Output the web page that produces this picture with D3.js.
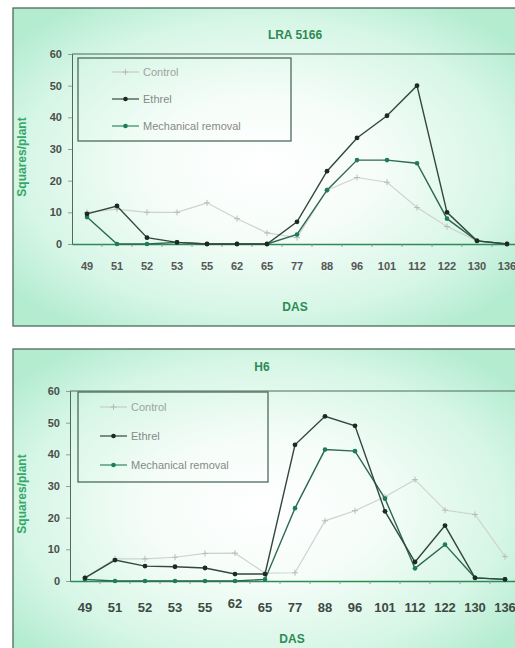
<!DOCTYPE html>
<html>
<head>
<meta charset="utf-8">
<script src="https://cdn.jsdelivr.net/npm/d3@7"></script>
<style>
  body { margin: 0; background: #ffffff; }
  svg { display: block; font-family: "Liberation Sans", Arial, sans-serif; }
</style>
</head>
<body>
<div id="chart"></div>
<script>
var das = ["49", "51", "52", "53", "55", "62", "65", "77", "88", "96", "101", "112", "122", "130", "136"];
var yTicks = [0, 10, 20, 30, 40, 50, 60];
var seriesNames = ["Control", "Ethrel", "Mechanical removal"];

var lraControl = [10, 11, 10, 10, 13, 8, 3.5, 2, 17, 21, 19.5, 11.5, 5.5, 1, 0];
var lraEthrel  = [9.5, 12, 2, 0.5, 0, 0, 0, 7, 23, 33.5, 40.5, 50, 10, 1, 0];
var lraMech    = [8.5, 0, 0, 0.5, 0, 0, 0, 3, 17, 26.5, 26.5, 25.5, 8, 1, 0];

var h6Control = [1, 7, 7, 7.5, 8.7, 8.8, 2.5, 2.6, 19, 22.2, 26.6, 32, 22.4, 21, 7.7];
var h6Ethrel  = [1, 6.6, 4.7, 4.5, 4.1, 2.2, 2.2, 43, 52, 49, 22, 6, 17.5, 1, 0.5];
var h6Mech    = [0.5, 0, 0, 0, 0, 0, 0.5, 23, 41.5, 41, 26, 4, 11.5, 1, 0.5];

var width = 515, height = 648;
var green = '#2f8a55';

var svg = d3.select('#chart').append('svg')
    .attr('width', width)
    .attr('height', height);

var defs = svg.append('defs');
var grad = defs.append('radialGradient')
    .attr('id', 'bg')
    .attr('cx', '48%').attr('cy', '50%').attr('r', '62%');
grad.append('stop').attr('offset', '0%').attr('stop-color', '#ffffff');
grad.append('stop').attr('offset', '35%').attr('stop-color', '#f6fdf9');
grad.append('stop').attr('offset', '75%').attr('stop-color', '#d6f6e6');
grad.append('stop').attr('offset', '100%').attr('stop-color', '#b4ecd0');

function drawPanel(opt) {
    var g = svg.append('g').attr('transform', 'translate(0,' + opt.top + ')');

    g.append('rect')
        .attr('x', 13).attr('y', 0)
        .attr('width', 520).attr('height', opt.boxH)
        .attr('fill', 'url(#bg)')
        .attr('stroke', '#4d6b5a')
        .attr('stroke-width', 1.3);

    var x = d3.scaleBand().domain(das).range([opt.x0, opt.x0 + 30 * das.length]);
    var y = d3.scaleLinear().domain([0, 60]).range([opt.y0, opt.y60]);

    // plot top line
    g.append('line')
        .attr('x1', opt.x0).attr('x2', 515)
        .attr('y1', y(60)).attr('y2', y(60))
        .attr('stroke', '#4d6b5a').attr('stroke-width', 1);

    // y axis
    var yAxis = g.append('g')
        .attr('transform', 'translate(' + opt.x0 + ',0)')
        .call(d3.axisLeft(y).tickValues(yTicks).tickSize(4).tickPadding(6));
    yAxis.select('.domain').attr('stroke', '#4d6b5a');
    yAxis.selectAll('line').attr('stroke', '#999');
    yAxis.selectAll('text')
        .attr('fill', '#4a4f4c')
        .style('font-size', '11px')
        .style('font-weight', 'bold');

    // x axis
    var xAxis = g.append('g')
        .attr('transform', 'translate(0,' + y(0) + ')')
        .call(d3.axisBottom(x).tickSize(0).tickPadding(opt.xPad));
    xAxis.select('.domain').attr('stroke', green).attr('stroke-width', 1.5);
    xAxis.selectAll('text')
        .attr('fill', opt.xColor)
        .style('font-size', opt.xFont)
        .style('font-weight', 'bold');
    xAxis.selectAll('.tick').filter(function(d) { return d === '62' && opt.lift62; })
        .select('text').attr('dy', '0.4em');

    // small ticks at band boundaries
    g.selectAll('.minor')
        .data(das.slice(1))
        .enter().append('line')
        .attr('x1', function(d) { return x(d); })
        .attr('x2', function(d) { return x(d); })
        .attr('y1', y(0)).attr('y2', y(0) + 3)
        .attr('stroke', '#888').attr('stroke-width', 0.8);

    var cx = function(d, i) { return x(das[i]) + x.bandwidth() / 2; };
    var line = d3.line().x(cx).y(function(d) { return y(d); });

    // control
    g.append('path').datum(opt.control)
        .attr('d', line).attr('fill', 'none')
        .attr('stroke', '#cfd3d0').attr('stroke-width', 1.2);
    g.selectAll('.ctl').data(opt.control).enter().append('path')
        .attr('transform', function(d, i) { return 'translate(' + cx(d, i) + ',' + y(d) + ')'; })
        .attr('d', 'M-3,0H3M0,-3V3')
        .attr('stroke', '#b8bcb9').attr('stroke-width', 1);

    // mechanical removal
    g.append('path').datum(opt.mech)
        .attr('d', line).attr('fill', 'none')
        .attr('stroke', '#2c6a52').attr('stroke-width', 1.4);
    g.selectAll('.mech').data(opt.mech).enter().append('circle')
        .attr('cx', cx).attr('cy', function(d) { return y(d); })
        .attr('r', 2.3).attr('fill', '#1e7d58');

    // ethrel
    g.append('path').datum(opt.ethrel)
        .attr('d', line).attr('fill', 'none')
        .attr('stroke', '#33473d').attr('stroke-width', 1.4);
    g.selectAll('.eth').data(opt.ethrel).enter().append('circle')
        .attr('cx', cx).attr('cy', function(d) { return y(d); })
        .attr('r', 2.4).attr('fill', '#1c2a22');

    // legend
    var lg = g.append('g');
    lg.append('rect')
        .attr('x', opt.leg.x).attr('y', opt.leg.y)
        .attr('width', opt.leg.w).attr('height', opt.leg.h)
        .attr('fill', 'none').attr('stroke', '#4d6b5a').attr('stroke-width', 1.3);
    var styles = [
        { stroke: '#c8ccc9', mark: 'plus', fill: '#b8bcb9' },
        { stroke: '#33473d', mark: 'dot', fill: '#1c2a22' },
        { stroke: '#2c8a62', mark: 'dot', fill: '#1e7d58' }
    ];
    seriesNames.forEach(function(name, i) {
        var ly = opt.leg.y + opt.leg.first + i * opt.leg.step;
        var lx = opt.leg.x + opt.leg.lineX;
        lg.append('line')
            .attr('x1', lx).attr('x2', lx + 27)
            .attr('y1', ly).attr('y2', ly)
            .attr('stroke', styles[i].stroke).attr('stroke-width', 1.2);
        if (styles[i].mark === 'plus') {
            lg.append('path')
                .attr('transform', 'translate(' + (lx + 13.5) + ',' + ly + ')')
                .attr('d', 'M-3,0H3M0,-3V3')
                .attr('stroke', styles[i].fill);
        } else {
            lg.append('circle').attr('cx', lx + 13.5).attr('cy', ly)
                .attr('r', 2.3).attr('fill', styles[i].fill);
        }
        lg.append('text')
            .attr('x', lx + 31).attr('y', ly + 4)
            .attr('fill', i === 0 ? '#9ea29f' : '#858a87')
            .style('font-size', '11px')
            .style('font-stretch', 'condensed')
            .text(name);
    });

    // titles
    g.append('text')
        .attr('x', opt.titleX).attr('y', opt.titleY)
        .attr('text-anchor', 'middle')
        .attr('fill', green)
        .style('font-size', '12px').style('font-weight', 'bold')
        .text(opt.title);

    g.append('text')
        .attr('transform', 'translate(26,' + ((y(0) + y(60)) / 2 + 8) + ') rotate(-90)')
        .attr('text-anchor', 'middle')
        .attr('fill', '#35a866')
        .style('font-size', '12px').style('font-weight', 'bold')
        .text('Squares/plant');

    g.append('text')
        .attr('x', opt.dasX).attr('y', opt.dasY)
        .attr('text-anchor', 'middle')
        .attr('fill', green)
        .style('font-size', '12px').style('font-weight', 'bold')
        .text('DAS');
}

drawPanel({
    top: 8, boxH: 318,
    x0: 72, y0: 236, y60: 46,
    control: lraControl, ethrel: lraEthrel, mech: lraMech,
    xPad: 18, xColor: '#555', xFont: '11px', lift62: false,
    leg: { x: 78, y: 50, w: 213, h: 83, first: 14, step: 27, lineX: 34 },
    title: 'LRA 5166', titleX: 295, titleY: 31,
    dasX: 295, dasY: 303
});

drawPanel({
    top: 349, boxH: 320,
    x0: 70, y0: 232, y60: 42,
    control: h6Control, ethrel: h6Ethrel, mech: h6Mech,
    xPad: 22, xColor: '#3d4a43', xFont: '13px', lift62: true,
    leg: { x: 78, y: 43, w: 190, h: 90, first: 15, step: 29, lineX: 22 },
    title: 'H6', titleX: 262, titleY: 22,
    dasX: 292, dasY: 294
});
</script>
</body>
</html>
